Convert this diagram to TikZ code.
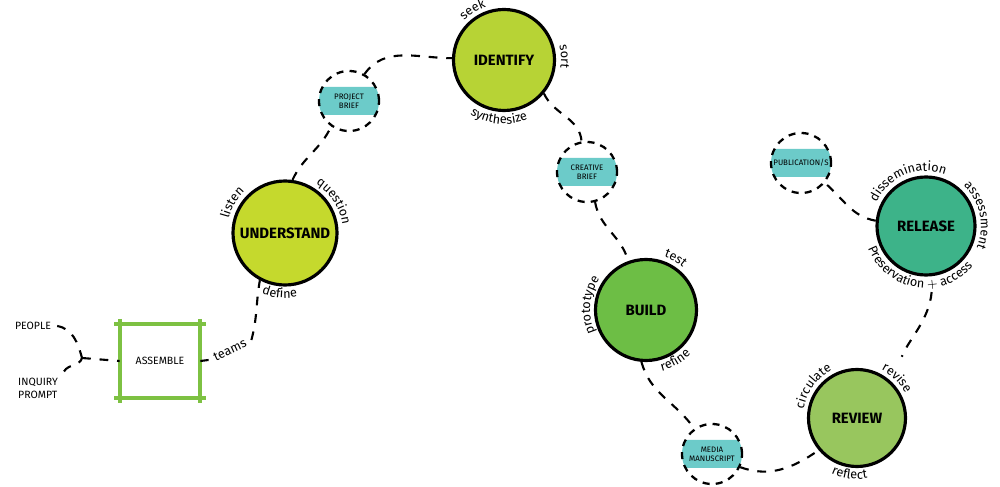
\documentclass[tikz,border=0pt]{standalone}
\usepackage{fontspec}
\setmainfont{Fira Sans}
\usetikzlibrary{decorations.text}

\definecolor{identifyfill}{HTML}{B7D335}
\definecolor{understandfill}{HTML}{C5D92D}
\definecolor{buildfill}{HTML}{6DBE45}
\definecolor{releasefill}{HTML}{3DB389}
\definecolor{reviewfill}{HTML}{98C65E}
\definecolor{blobteal}{HTML}{6CCBC9}
\definecolor{squaregreen}{HTML}{7DC142}

\newcommand{\arcfont}{\fontsize{7.2}{8.5}\selectfont}

% label set along an arc round a stage: centre, radius, start, end, text
\newcommand{\arclabel}[5]{\path[decorate, decoration={text along path, text align=center, text={|\arcfont|#5}}] (#1.center) ++(#3:#2) arc[start angle=#3, end angle=#4, radius=#2];}

\tikzset{
	stage/.style={circle, draw=black, line width=1.8pt, inner sep=0pt, font=\fontsize{8.5}{10}\selectfont\bfseries},
	brief/.style={circle, draw=black, line width=1.3pt, dash pattern=on 4pt off 3.5pt, minimum size=12mm, inner sep=0pt, align=center, font=\fontsize{4.5}{5}\selectfont,
		path picture={\fill[blobteal, rounded corners=3pt] ([shift={(-6mm,-2.8mm)}]path picture bounding box.center) rectangle ([shift={(6mm,2.8mm)}]path picture bounding box.center);}},
	link/.style={line width=1.2pt, dash pattern=on 5pt off 5pt},
	tag/.style={font=\fontsize{6}{7.5}\selectfont, align=left},
	sketch/.style={draw=squaregreen, line width=2.2pt},
}

\begin{document}
\begin{tikzpicture}[x=0.2mm, y=0.2mm]

	\useasboundingbox (0, 0) rectangle (1000, 487);

	% stages
	\node[stage, fill=understandfill, minimum size=20.8mm] (understand) at (285, 254) {UNDERSTAND};
	\node[stage, fill=identifyfill, minimum size=20.2mm] (identify) at (504, 427) {IDENTIFY};
	\node[stage, fill=buildfill, minimum size=20.2mm] (build) at (646, 177) {BUILD};
	\node[stage, fill=releasefill, minimum size=19.6mm] (release) at (926, 261) {RELEASE};
	\node[stage, fill=reviewfill, minimum size=19.4mm] (review) at (857, 69) {REVIEW};

	% briefs
	\node[brief] (projectbrief) at (349, 386) {PROJECT\\BRIEF};
	\node[brief] (creativebrief) at (587, 315) {CREATIVE\\BRIEF};
	\node[brief] (manuscript) at (712, 33) {MEDIA\\MANUSCRIPT};
	\node[brief] (publication) at (801, 324) {PUBLICATION/S};

	% assemble box
	\node[tag, minimum width=16mm, minimum height=14.6mm] (assemble) at (160, 126) {ASSEMBLE};
	\draw[sketch] ([xshift=-3pt]assemble.north west) -- ([xshift=3pt]assemble.north east);
	\draw[sketch] ([xshift=-3pt]assemble.south west) -- ([xshift=3pt]assemble.south east);
	\draw[sketch] ([yshift=3pt]assemble.north west) -- ([yshift=-3pt]assemble.south west);
	\draw[sketch] ([yshift=3pt]assemble.north east) -- ([yshift=-3pt]assemble.south east);

	\node[tag] (people) at (33, 161) {PEOPLE};
	\node[tag] (inquiry) at (38, 99) {INQUIRY\\PROMPT};
	\coordinate (junction) at (82, 129);

	\node[font=\arcfont, rotate=25] (teams) at (230, 137) {teams};

	% connectors
	\draw[link] (people.east) to[out=-10, in=105] (junction);
	\draw[link] (inquiry.north east) to[out=60, in=-105] (junction);
	\draw[link] (junction) -- (assemble.west);
	\draw[line width=1.2pt] (assemble.east) -- (teams.west);
	\draw[link] (teams.east) to[out=75, in=-100] (understand.-118);
	\draw[link] (understand.82) to[out=65, in=-115] (projectbrief.-125);
	\draw[link] (projectbrief.60) to[out=55, in=180] (identify.178);
	\draw[link] (identify.-40) to[out=-65, in=95] (creativebrief.100);
	\draw[link] (creativebrief.-75) to[out=-80, in=105] (build.110);
	\draw[link] (build.-95) to[out=-75, in=125] (manuscript.125);
	\draw[link] (manuscript.-25) to[out=-20, in=-145] (review.-140);
	\draw[link, shorten <=3.2mm, shorten >=5.5mm] (release.-82) to[out=-95, in=70] (review.45);
	\draw[link] (release.174) to[out=170, in=-40] (publication.-40);

	% arc labels
	\arclabel{identify}{56}{144}{100}{seek}
	\arclabel{identify}{57}{27}{-21}{sort}
	\arclabel{identify}{64}{-145}{-45}{synthesize}

	\arclabel{understand}{58}{182}{118}{listen}
	\arclabel{understand}{58}{72}{-6}{question}
	\arclabel{understand}{65}{-130}{-60}{define}

	\arclabel{build}{56}{88}{32}{test}
	\arclabel{build}{56}{228}{122}{prototype}
	\arclabel{build}{63}{-92}{-28}{refine}

	\arclabel{release}{55}{162}{62}{dissemination}
	\arclabel{release}{55}{62}{-38}{assessment}
	\arclabel{release}{62}{175}{345}{Preservation {$+$} access}

	\arclabel{review}{54}{188}{100}{circulate}
	\arclabel{review}{54}{78}{12}{revise}
	\arclabel{review}{61}{-135}{-60}{reflect}

\end{tikzpicture}
\end{document}
